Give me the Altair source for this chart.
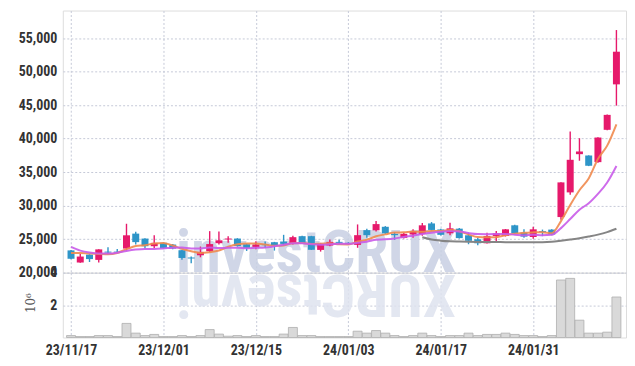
import altair as alt
import pandas as pd

dates = ["23/11/17", "23/11/20", "23/11/21", "23/11/22", "23/11/23", "23/11/24", "23/11/27", "23/11/28",
         "23/11/29", "23/11/30", "23/12/01", "23/12/04", "23/12/05", "23/12/06", "23/12/07", "23/12/08",
         "23/12/11", "23/12/12", "23/12/13", "23/12/14", "23/12/15", "23/12/18", "23/12/19", "23/12/20",
         "23/12/21", "23/12/22", "23/12/26", "23/12/27", "23/12/28", "24/01/02", "24/01/03", "24/01/04",
         "24/01/05", "24/01/08", "24/01/09", "24/01/10", "24/01/11", "24/01/12", "24/01/15", "24/01/16",
         "24/01/17", "24/01/18", "24/01/19", "24/01/22", "24/01/23", "24/01/24", "24/01/25", "24/01/26",
         "24/01/29", "24/01/30", "24/01/31", "24/02/01", "24/02/02", "24/02/05", "24/02/06", "24/02/07",
         "24/02/08", "24/02/13", "24/02/14", "24/02/15"]

opens = [23330, 21520, 22700, 21910, 23150, 23150, 23600, 25830, 25090, 23950,
         24450, 24200, 23350, 22280, 22600, 23200, 24400, 24950, 25090, 24250,
         23850, 24250, 24550, 24650, 24300, 25450, 25450, 23400, 24050, 24600,
         24450, 24150, 26350, 26320, 26850, 25780, 25200, 25700, 25750, 27350,
         26450, 25880, 26570, 25580, 24985, 24390, 25480, 25480, 27070, 25980,
         25330, 26200, 26430, 28300, 31980, 37680, 37480, 36490, 41310, 48090]
highs = [23400, 22800, 22750, 23500, 23800, 23550, 27300, 26100, 25150, 25580,
         24500, 24300, 23400, 22400, 23900, 26200, 26150, 25450, 25150, 24350,
         24700, 24650, 24600, 25650, 25500, 25500, 25500, 24450, 24950, 24900,
         24550, 27200, 26550, 27730, 26950, 26050, 25950, 26500, 27400, 27550,
         26550, 27450, 26650, 25950, 25230, 25950, 26220, 26520, 27150, 26470,
         26870, 26430, 26500, 33500, 41050, 40060, 37500, 40200, 43600, 56190]
lows = [22000, 21500, 21600, 21520, 22750, 23000, 23300, 24200, 23600, 23700,
        23600, 23500, 21950, 21400, 22300, 23100, 24200, 24450, 23900, 23250,
        23500, 23700, 23300, 24000, 24200, 24300, 23400, 23150, 23950, 24200,
        24150, 23720, 25200, 26150, 25800, 24900, 25100, 25200, 25500, 26300,
        25550, 25600, 25100, 24250, 24100, 24340, 24740, 25400, 25800, 25230,
        25080, 25450, 25600, 27900, 31640, 36700, 35900, 36400, 41250, 44920]
closes = [22080, 22410, 22030, 23480, 23000, 23000, 25580, 24560, 23950, 24450,
          23650, 23600, 22200, 22130, 23100, 24270, 24830, 25100, 23970, 23700,
          24200, 24100, 24050, 24300, 25300, 24350, 23420, 24320, 24600, 24450,
          24300, 25600, 25600, 27250, 25850, 25600, 25800, 26200, 27070, 26380,
          25650, 26620, 25160, 24760, 24390, 25480, 25880, 26470, 25880, 25380,
          26470, 26050, 25690, 33470, 36840, 38080, 35950, 40160, 43540, 52960]
volumes = [0.12, 0.06, 0.06, 0.12, 0.12, 0.06, 0.87, 0.27, 0.12, 0.19,
           0.06, 0.06, 0.12, 0.06, 0.12, 0.49, 0.21, 0.08, 0.12, 0.06,
           0.12, 0.06, 0.06, 0.21, 0.62, 0.12, 0.12, 0.06, 0.06, 0.06,
           0.06, 0.39, 0.27, 0.43, 0.27, 0.12, 0.06, 0.12, 0.27, 0.12,
           0.06, 0.12, 0.12, 0.27, 0.12, 0.19, 0.19, 0.27, 0.19, 0.12,
           0.12, 0.06, 0.12, 3.55, 3.65, 1.07, 0.27, 0.27, 0.33, 2.50]
ma5 = [22950, 22950, 22850, 22800, 22750, 22950, 23500, 23980, 24100, 24360,
       24440, 24050, 23570, 23210, 22940, 23064, 23310, 23880, 24244, 24364,
       24350, 24204, 24004, 24070, 24390, 24420, 24284, 24338, 24398, 24228,
       24218, 24654, 24910, 25440, 25720, 25980, 26020, 26140, 26104, 26210,
       26220, 26384, 26176, 25714, 25316, 25282, 25300, 25600, 25800, 25950,
       26016, 26050, 25894, 27700, 30100, 32300, 34050, 36950, 38950, 42138]
ma10 = [23850, 23300, 23000, 22850, 22850, 22980, 23250, 23450, 23550, 23550,
        23621, 23740, 23757, 23624, 23629, 23751, 23676, 23725, 23727, 23652,
        23707, 23757, 23942, 24157, 24377, 24385, 24244, 24171, 24234, 24309,
        24319, 24469, 24624, 24919, 24974, 25099, 25337, 25525, 25772, 25965,
        26100, 26202, 26158, 25909, 25763, 25751, 25759, 25786, 25667, 25567,
        25649, 25592, 25645, 26650, 28000, 29400, 30350, 31750, 33450, 35921]
ma_long_start = 38
ma_long = [25280, 24950, 24780, 24680, 24640, 24610, 24590, 24580, 24570, 24560, 24550,
           24540, 24540, 24550, 24620, 24780, 24960, 25150, 25400, 25680, 26050, 26550]

price_ticks = [20000, 25000, 30000, 35000, 40000, 45000, 50000, 55000]
volume_ticks = [2, 4]
date_tick_idx = [0, 10, 20, 30, 40, 50]
watermark = "investCRUX"

n = len(dates)
df = pd.DataFrame({
    "idx": list(range(n)), "date": dates, "open": opens, "high": highs,
    "low": lows, "close": closes, "volume": volumes, "ma5": ma5, "ma10": ma10,
    "malong": [None] * ma_long_start + ma_long,
})

UP = "#e6196b"
DOWN = "#2e95c8"
FONT = "Liberation Sans Narrow, Roboto Condensed, Roboto"
GRID = "#c6cad8"

xscale = alt.Scale(domain=[-0.35, 59.5], nice=False, zero=False)
x_price = alt.X("idx:Q", scale=xscale,
                axis=alt.Axis(values=date_tick_idx, labels=False, ticks=False, domain=False,
                              title=None, grid=True, gridColor=GRID, gridDash=[2, 2],
                              minExtent=0, maxExtent=0))
pscale = alt.Scale(domain=[20000, 59100], nice=False, zero=False)
yaxis = alt.Axis(values=price_ticks, format=",.0f", title=None, ticks=False, domain=False,
                 grid=True, gridColor=GRID, gridDash=[2, 2], labelFont=FONT,
                 labelFontWeight="bold", labelFontSize=14, labelColor="#333333",
                 labelPadding=6, minExtent=50, maxExtent=50)

color = alt.condition("datum.close >= datum.open", alt.value(UP), alt.value(DOWN))
base = alt.Chart(df)

wm = alt.Chart(pd.DataFrame({"t": [watermark]})).mark_text(
    font=FONT, fontWeight="bold", fontSize=60, color="#c8d0e3", opacity=0.85,
    align="center", baseline="alphabetic"
).encode(x=alt.value(254), y=alt.value(262), text="t:N")

wicks = base.mark_rule(strokeWidth=1.4).encode(
    x=x_price, y=alt.Y("low:Q", scale=pscale, axis=yaxis), y2="high:Q", color=color)
bodies = base.mark_bar(size=7).encode(
    x=x_price, y=alt.Y("open:Q", scale=pscale, axis=yaxis), y2="close:Q", color=color)
line5 = base.mark_line(color="#f08a4e", strokeWidth=2, interpolate="monotone", opacity=0.9).encode(
    x=x_price, y=alt.Y("ma5:Q", scale=pscale, axis=yaxis))
line10 = base.mark_line(color="#c95be9", strokeWidth=2, interpolate="monotone", opacity=0.9).encode(
    x=x_price, y=alt.Y("ma10:Q", scale=pscale, axis=yaxis))
linel = base.transform_filter("isValid(datum.malong)").mark_line(
    color="#858585", strokeWidth=2, interpolate="monotone").encode(
    x=x_price, y=alt.Y("malong:Q", scale=pscale, axis=yaxis))

price = alt.layer(wm, wicks, bodies, line5, line10, linel).properties(width=565, height=263)

label_expr = "[" + ",".join("'" + d + "'" for d in dates) + "][datum.value]"
x_vol = alt.X("idx:Q", scale=xscale,
              axis=alt.Axis(values=date_tick_idx, labelExpr=label_expr, ticks=False, domain=False,
                            title=None, grid=True, gridColor=GRID, gridDash=[2, 2],
                            labelFont=FONT, labelFontWeight="bold", labelFontSize=14,
                            labelColor="#333333", labelPadding=6, labelFlush=False))
vaxis = alt.Axis(values=volume_ticks, title="10⁶", titleFont="DejaVu Serif", titleFontSize=12,
                 titleFontWeight="normal", titleColor="#555555", titleX=-32, titleY=30,
                 titleAngle=-90, titleBaseline="middle", titleAlign="center",
                 ticks=False, domain=False, grid=True, gridColor=GRID, gridDash=[2, 2],
                 labelFont=FONT, labelFontWeight="bold", labelFontSize=14,
                 labelColor="#333333", labelPadding=6, minExtent=50, maxExtent=50)

wm2 = alt.Chart(pd.DataFrame({"t": [watermark[::-1]]})).mark_text(
    font=FONT, fontWeight="bold", fontSize=60, color="#dfe3ef", opacity=0.85,
    align="center", baseline="alphabetic", angle=180
).encode(x=alt.value(254), y=alt.value(2), text="t:N")

vbars = base.mark_bar(size=9, fill="#d9d9d9", stroke="#aeaeae", strokeWidth=0.8).encode(
    x=x_vol, y=alt.Y("volume:Q", scale=alt.Scale(domain=[0, 4], nice=False), axis=vaxis))

vol = alt.layer(wm2, vbars).properties(width=565, height=65)

chart = alt.vconcat(price, vol, spacing=0, bounds="flush").properties(
    padding={"left": 12, "top": 9, "right": 8, "bottom": 4}
).configure_view(stroke="#cfcfcf", strokeWidth=1).configure(background="white")

chart.save("out.html", embed_options={"renderer": "svg", "actions": False})
